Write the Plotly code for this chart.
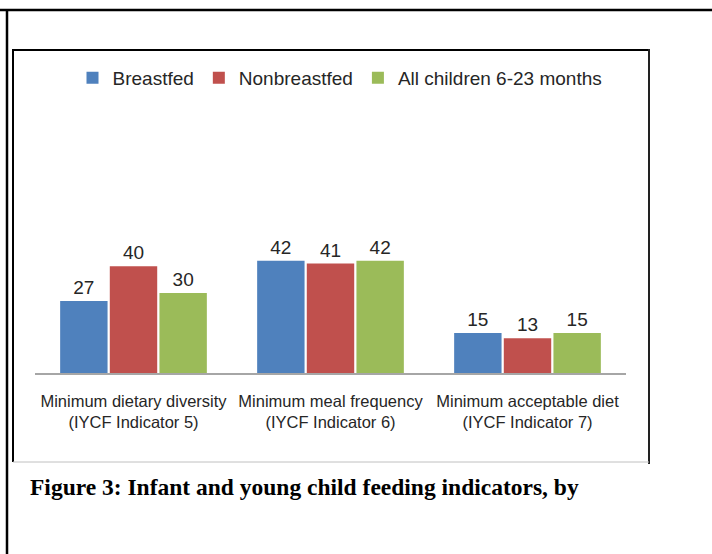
import plotly.graph_objects as go

categories = ["Minimum dietary diversity<br>(IYCF Indicator 5)",
              "Minimum meal frequency<br>(IYCF Indicator 6)",
              "Minimum acceptable diet<br>(IYCF Indicator 7)"]
series_names = ["Breastfed", "Nonbreastfed", "All children 6-23 months"]
breastfed = [27, 42, 15]
nonbreastfed = [40, 41, 13]
all_children = [30, 42, 15]
colors = ["#4F81BD", "#C0504D", "#9BBB59"]
caption = "Figure 3: Infant and young child feeding indicators, by"

W, H = 712, 554
def px(x):
    return x / W
def py(y):
    return 1 - y / H

SANS = "Liberation Sans, Arial, sans-serif"
SERIF = "Liberation Serif, Times New Roman, serif"

fig = go.Figure()
for name, vals, col in zip(series_names, [breastfed, nonbreastfed, all_children], colors):
    fig.add_trace(go.Bar(
        name=name, x=categories, y=vals, marker_color=col,
        marker_line_width=0,
        text=[str(v) for v in vals], textposition="outside",
        textfont=dict(family=SANS, size=19, color="#262626"),
        cliponaxis=False,
    ))

shapes = []
def line(x0, y0, x1, y1, color="black", width=2):
    shapes.append(dict(type="line", xref="paper", yref="paper",
                       x0=px(x0), y0=py(y0), x1=px(x1), y1=py(y1),
                       line=dict(color=color, width=width)))

# outer page border (top + left)
line(0, 10, W, 10, width=2.5)
line(7, 10, 7, H, width=2.5)
# inner chart frame
line(13, 50, 649, 50, width=2)
line(13, 49, 13, 462, width=2)
line(649, 49, 649, 464, color="#222222", width=2)
line(13, 462, 649, 462, color="#C0C0C0", width=1)

fig.update_layout(
    width=W, height=H,
    margin=dict(l=0, r=0, t=0, b=0, autoexpand=False),
    paper_bgcolor="white", plot_bgcolor="white",
    barmode="group", bargap=0.244, bargroupgap=0.045,
    showlegend=True,
    legend=dict(orientation="h", x=px(340), xanchor="center",
                y=py(78), yanchor="middle",
                font=dict(family=SANS, size=19, color="#262626"),
                bgcolor="rgba(0,0,0,0)"),
    xaxis=dict(domain=[px(35), px(626)], showline=True, linecolor="#A6A6A6",
               linewidth=1.5, ticks="", showgrid=False, zeroline=False,
               tickangle=0,
               tickfont=dict(family=SANS, size=16.5, color="#262626"),
               ticklabelstandoff=12),
    yaxis=dict(domain=[py(373), py(239.5)], range=[0, 50], visible=False,
               showgrid=False, zeroline=False),
    shapes=shapes,
    annotations=[dict(text="<b>" + caption + "</b>", xref="paper", yref="paper",
                      x=px(28), y=py(487), xanchor="left", yanchor="middle",
                      showarrow=False,
                      font=dict(family=SERIF, size=23.5, color="black"))],
)

fig.write_html("out.html")
